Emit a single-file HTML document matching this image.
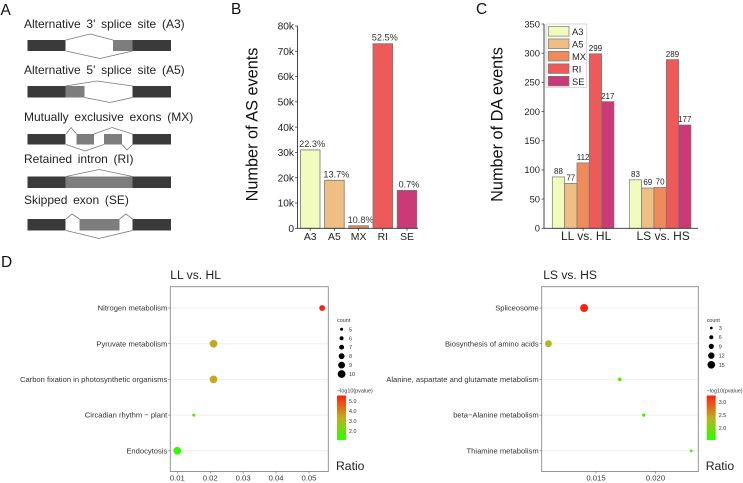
<!DOCTYPE html>
<html>
<head>
<meta charset="utf-8">
<title>AS events figure</title>
<style>
html,body{margin:0;padding:0;background:#fff}
svg{display:block;font-family:"Liberation Sans",Arial,sans-serif;filter:blur(0.3px)}
</style>
</head>
<body>
<svg id="fig" width="743" height="483" viewBox="0 0 743 483" xmlns="http://www.w3.org/2000/svg">
<defs>
<linearGradient id="cbar" x1="0" y1="1" x2="0" y2="0">
<stop offset="0" stop-color="#2bff00"/><stop offset="0.5" stop-color="#bfb020"/><stop offset="1" stop-color="#ff2010"/>
</linearGradient>
</defs>
<g fill="#111" font-size="15.5">
<text x="0.5" y="15">A</text>
<text x="231" y="14">B</text>
<text x="476" y="14">C</text>
<text x="1" y="267">D</text>
</g>
<g id="panelA" font-size="12" fill="#222" word-spacing="2.4">
<text x="24" y="28">Alternative 3' splice site (A3)</text>
<g>
<rect x="27.5" y="40" width="38" height="11" fill="#3a3a3a"/><rect x="113" y="40" width="19.5" height="11" fill="#7d7d7d"/><rect x="132.5" y="40" width="38.5" height="11" fill="#3a3a3a"/>
<polyline points="66,40 90,34 113,40" fill="none" stroke="#777" stroke-width="0.8"/><polyline points="66,51 100,58.5 132.5,51" fill="none" stroke="#777" stroke-width="0.8"/>
</g>
<text x="24" y="74">Alternative 5' splice site (A5)</text>
<g>
<rect x="27.5" y="86" width="38" height="11.5" fill="#3a3a3a"/><rect x="65.5" y="86" width="19" height="11.5" fill="#7d7d7d"/><rect x="132.5" y="86" width="38.5" height="11.5" fill="#3a3a3a"/>
<polyline points="65.5,86 97,81 132.5,86" fill="none" stroke="#777" stroke-width="0.8"/><polyline points="84.5,97.5 110,102.5 132.5,97.5" fill="none" stroke="#777" stroke-width="0.8"/>
</g>
<text x="24" y="121">Mutually exclusive exons (MX)</text>
<g>
<rect x="27.5" y="134" width="38" height="10.5" fill="#3a3a3a"/><rect x="76.5" y="134" width="17.5" height="10.5" fill="#7d7d7d"/><rect x="104" y="134" width="18" height="10.5" fill="#7d7d7d"/><rect x="132.5" y="134" width="38.5" height="10.5" fill="#3a3a3a"/>
<polyline points="66,134 71,127.5 76.5,134" fill="none" stroke="#777" stroke-width="0.8"/><polyline points="94,134 112,127.5 132.5,134" fill="none" stroke="#777" stroke-width="0.8"/>
<polyline points="66,144.5 85,151 104,144.5" fill="none" stroke="#777" stroke-width="0.8"/><polyline points="122,144.5 127,150 132.5,144.5" fill="none" stroke="#777" stroke-width="0.8"/>
</g>
<text x="24" y="163">Retained intron (RI)</text>
<g>
<rect x="27.5" y="176.5" width="38" height="11.5" fill="#3a3a3a"/><rect x="65.5" y="176.5" width="67" height="11.5" fill="#7d7d7d"/><rect x="132.5" y="176.5" width="38.5" height="11.5" fill="#3a3a3a"/>
<polyline points="66,176.5 99,169.5 132.5,176.5" fill="none" stroke="#777" stroke-width="0.8"/>
</g>
<text x="24" y="204">Skipped exon (SE)</text>
<g>
<rect x="27.5" y="219" width="38" height="11.5" fill="#3a3a3a"/><rect x="79.5" y="219" width="40" height="11.5" fill="#7d7d7d"/><rect x="132.5" y="219" width="38.5" height="11.5" fill="#3a3a3a"/>
<polyline points="66,219 72,214 79.5,219" fill="none" stroke="#777" stroke-width="0.8"/><polyline points="119.5,219 126,214 132.5,219" fill="none" stroke="#777" stroke-width="0.8"/>
<polyline points="66,230.5 99,238.5 132.5,230.5" fill="none" stroke="#777" stroke-width="0.8"/>
</g>
</g>
</svg>
<script>
// Panel B data
const bCategories = ['A3','A5','MX','RI','SE'];
const bValues = [31000,19000,1000,73000,15000];
const bPercentLabels = ['22.3%','13.7%','10.8%','52.5%','0.7%'];
const bTickValues = [0,10000,20000,30000,40000,50000,60000,70000,80000];
const bTickLabels = ['0','10k','20k','30k','40k','50k','60k','70k','80k'];
// Panel C data
const cGroups = ['LL vs. HL','LS vs. HS'];
const cSeriesNames = ['A3','A5','MX','RI','SE'];
const cSeriesColors = ['#f1fcbc','#efbe85','#ef8a5a','#ec5a5a','#c93a76'];
const cValuesA3 = [88,83];
const cValuesA5 = [77,69];
const cValuesMX = [112,70];
const cValuesRI = [299,289];
const cValuesSE = [217,177];
const cTickValues = [0,50,100,150,200,250,300,350];
// Panel D left data
const dlTerms = ['Nitrogen metabolism','Pyruvate metabolism','Carbon fixation in photosynthetic organisms','Circadian rhythm \u2212 plant','Endocytosis'];
const dlRatio = [0.054,0.021,0.021,0.015,0.010];
const dlCount = [8,10,10,5,10];
const dlLogP = [5.5,3.4,3.4,1.7,1.2];
const dlXTicks = [0.01,0.02,0.03,0.04,0.05];
const dlXTickLabels = ['0.01','0.02','0.03','0.04','0.05'];
const dlCountLegend = [5,6,7,8,9,10];
const dlColorTicks = [5.0,4.0,3.0,2.0];
// Panel D right data
const drTerms = ['Spliceosome','Biosynthesis of amino acids','Alanine, aspartate and glutamate metabolism','beta\u2212Alanine metabolism','Thiamine metabolism'];
const drRatio = [0.014,0.011,0.017,0.019,0.023];
const drCount = [16,13,5,4,3];
const drLogP = [3.27,2.3,1.7,1.65,1.55];
const drXTicks = [0.015,0.020];
const drXTickLabels = ['0.015','0.020'];
const drCountLegend = [3,6,9,12,15];
const drColorTicks = [3.0,2.5,2.0];

const NS = 'http://www.w3.org/2000/svg';
const fig = document.getElementById('fig');
function mk(tag, attrs, parent, txt) {
  const el = document.createElementNS(NS, tag);
  for (const k in attrs) el.setAttribute(k, attrs[k]);
  if (txt !== undefined) el.textContent = txt;
  (parent || fig).appendChild(el);
  return el;
}
function slug(s) { return String(s).toLowerCase().replace(/[^a-z0-9]+/g, '-').replace(/^-|-$/g, ''); }

/* ---------- Panel B ---------- */
(function () {
  const g = mk('g', {});
  
  
  const y0 = 228.3, yTop = 26, x0 = 297.5, vMax = 80000;
  const y = v => y0 - (y0 - yTop) * v / vMax;
  const x = i => 310.2 + i * 24.2;
  const bw = 19.6;
  bCategories.forEach((c, i) => {
    const r = mk('rect', { x: x(i) - bw / 2, y: y(bValues[i]), width: bw, height: y0 - y(bValues[i]), fill: cSeriesColors[i], stroke: '#777', 'stroke-width': 0.8 }, g);
    
    
    const t = mk('text', { x: x(i) + 2, y: y(bValues[i]) - 3, 'text-anchor': 'middle', 'font-size': 9.2, fill: '#333' }, g, bPercentLabels[i]);
    
    
    const tk = mk('line', { x1: x(i), x2: x(i), y1: y0, y2: y0 + 2.5, stroke: '#444', 'stroke-width': 0.8 }, g);
    
    
    const l = mk('text', { x: x(i), y: 240, 'text-anchor': 'middle', 'font-size': 10.4, fill: '#222' }, g, c);
    
    
  });
  bTickValues.forEach((v, i) => {
    const tk = mk('line', { x1: x0 - 2.5, x2: x0, y1: y(v), y2: y(v), stroke: '#444', 'stroke-width': 0.8 }, g);
    
    
    const l = mk('text', { x: 294, y: y(v) + 3.6, 'text-anchor': 'end', 'font-size': 10.2, fill: '#222' }, g, bTickLabels[i]);
    
    
  });
  const ax = mk('path', { d: `M${x0} ${yTop}V${y0}H418`, fill: 'none', stroke: '#333', 'stroke-width': 0.9 }, g);
  
  
  const yt = mk('text', { transform: 'translate(257.5,124.5) rotate(-90)', 'text-anchor': 'middle', 'font-size': 16.3, fill: '#111' }, g, 'Number of AS events');
  
  
})();

/* ---------- Panel C ---------- */
(function () {
  const g = mk('g', {});
  
  
  const y0 = 228.3, yTop = 24, x0 = 544, vMax = 350;
  const y = v => y0 - (y0 - yTop) * v / vMax;
  const bw = 12.33;
  const gx = j => 552.3 + j * 77;
  const series = [cValuesA3, cValuesA5, cValuesMX, cValuesRI, cValuesSE];
  cGroups.forEach((name, j) => {
    series.forEach((vals, s) => {
      const bx = gx(j) + s * bw;
      const r = mk('rect', { x: bx, y: y(vals[j]), width: bw, height: y0 - y(vals[j]), fill: cSeriesColors[s], stroke: '#777', 'stroke-width': 0.7 }, g);
      
      
      const t = mk('text', { x: bx + bw / 2, y: y(vals[j]) - 2.8, 'text-anchor': 'middle', 'font-size': 8, fill: '#222' }, g, vals[j]);
      
      
    });
    const cx = gx(j) + 2.5 * bw;
    const tk = mk('line', { x1: cx, x2: cx, y1: y0, y2: y0 + 2.5, stroke: '#444', 'stroke-width': 0.8 }, g);
    
    
    const l = mk('text', { x: cx + 3, y: 240, 'text-anchor': 'middle', 'font-size': 12, fill: '#222' }, g, name);
    
    
  });
  cTickValues.forEach(v => {
    const tk = mk('line', { x1: x0 - 2.5, x2: x0, y1: y(v), y2: y(v), stroke: '#444', 'stroke-width': 0.8 }, g);
    
    
    const l = mk('text', { x: 540, y: y(v) + 3.3, 'text-anchor': 'end', 'font-size': 9.4, fill: '#222' }, g, v);
    
    
  });
  const ax = mk('path', { d: `M${x0} ${yTop}V${y0}H698`, fill: 'none', stroke: '#333', 'stroke-width': 0.9 }, g);
  
  
  const yt = mk('text', { transform: 'translate(502.5,124.5) rotate(-90)', 'text-anchor': 'middle', 'font-size': 16.3, fill: '#111' }, g, 'Number of DA events');
  
  
  const lg = mk('g', {}, g);
  
  
  const box = mk('rect', { x: 546, y: 24, width: 40.7, height: 63.3, fill: '#fff', stroke: '#ccc', 'stroke-width': 0.8 }, lg);
  
  
  cSeriesNames.forEach((n, s) => {
    const top = 26.5 + s * 12.45;
    const sw = mk('rect', { x: 548.3, y: top, width: 20.7, height: 9.6, fill: cSeriesColors[s], stroke: '#777', 'stroke-width': 0.7 }, lg);
    
    
    const t = mk('text', { x: 572, y: top + 8.6, 'font-size': 9.4, fill: '#222' }, lg, n);
    
    
  });
})();

/* ---------- Panel D ---------- */
function hex(c) { return c.map(v => Math.round(v)); }
function ramp(t) {
  t = Math.max(0, Math.min(1, t));
  const a = [43, 255, 0], m = [191, 176, 32], b = [255, 32, 16];
  const p = t < 0.5 ? a : m, q = t < 0.5 ? m : b, u = t < 0.5 ? t * 2 : (t - 0.5) * 2;
  const c = hex(p.map((v, i) => v + (q[i] - v) * u));
  return `rgb(${c[0]},${c[1]},${c[2]})`;
}
function dotPlot(o) {
  const g = mk('g', {});
  
  
  const tt = mk('text', { x: o.left - (o.titleDx || 0), y: 279, 'font-size': 12.1, fill: '#222' }, g, o.title);
  
  
  const top = 286.7, bottom = 471.5;
  const rowY = i => 308 + i * 35.7;
  const x = v => o.x0 + (v - o.v0) * o.scale;
  const yOfLog = v => o.cbY0 + (v - o.cbV0) * o.cbScale;
  const size = c => o.dA + (c - o.cA) * o.dK;
  o.terms.forEach((t, i) => {
    const gl = mk('line', { x1: o.left, x2: o.right, y1: rowY(i), y2: rowY(i), stroke: '#efefef', 'stroke-width': 1 }, g);
    
    
    const tk = mk('line', { x1: o.left - 2, x2: o.left, y1: rowY(i), y2: rowY(i), stroke: '#555', 'stroke-width': 0.6 }, g);
    
    
    const l = mk('text', { x: o.left - 3, y: rowY(i) + 2.6, 'text-anchor': 'end', 'font-size': 7.6, fill: '#333' }, g, t);
    
    
  });
  const frame = mk('rect', { x: o.left, y: top, width: o.right - o.left, height: bottom - top, fill: 'none', stroke: '#8a8a8a', 'stroke-width': 0.9 }, g);
  
  
  o.terms.forEach((t, i) => {
    const c = mk('circle', { cx: x(o.ratio[i]), cy: rowY(i), r: size(o.count[i]) / 2, fill: ramp((o.logp[i] - o.pLo) / (o.pHi - o.pLo)) }, g);
    
    
  });
  o.xTicks.forEach((v, i) => {
    const tk = mk('line', { x1: x(v), x2: x(v), y1: bottom, y2: bottom + 2, stroke: '#555', 'stroke-width': 0.6 }, g);
    
    
    const l = mk('text', { x: x(v), y: 480.5, 'text-anchor': 'middle', 'font-size': 7.7, fill: '#333' }, g, o.xLabels[i]);
    
    
  });
  const ct = mk('text', { x: o.lgX, y: 322, 'font-size': 5.4, fill: '#333' }, g, 'count');
  
  
  o.countLegend.forEach((c, i) => {
    const ly = o.lgY0 + i * o.lgStep;
    const d = mk('circle', { cx: o.lgX + 4.6, cy: ly, r: size(c) / 2, fill: '#000' }, g);
    
    
    const l = mk('text', { x: o.lgX + 12, y: ly + 2, 'font-size': 5.4, fill: '#333' }, g, c);
    
    
  });
  const pt = mk('text', { x: o.lgX, y: 392.5, 'font-size': 5.4, fill: '#333' }, g, '\u2212log10(pvalue)');
  
  
  const cb = mk('rect', { x: o.lgX, y: 395.5, width: 9, height: 44.5, fill: 'url(#cbar)' }, g);
  
  
  o.colorTicks.forEach(v => {
    const l = mk('text', { x: o.lgX + 12, y: yOfLog(v) + 2, 'font-size': 5.4, fill: '#333' }, g, v.toFixed(1));
    
    
  });
  const rt = mk('text', { x: o.lgX - 1, y: 470, 'font-size': 12.2, fill: '#222' }, g, 'Ratio');
  
  
}
dotPlot({
  name: 'll-vs-hl-dot-plot', title: 'LL vs. HL', left: 170.3, right: 328.3,
  x0: 177.3, v0: 0.01, scale: 3292, terms: dlTerms, ratio: dlRatio, count: dlCount, logp: dlLogP,
  xTicks: dlXTicks, xLabels: dlXTickLabels, pLo: 1.1, pHi: 5.5,
  countLegend: dlCountLegend, cA: 5, dA: 3, dK: 0.95, lgX: 337, lgY0: 329.3, lgStep: 8.95,
  colorTicks: dlColorTicks, cbY0: 401, cbV0: 5, cbScale: -10
});
dotPlot({
  name: 'ls-vs-hs-dot-plot', title: 'LS vs. HS', left: 541.7, right: 698.3, titleDx: -1.5,
  x0: 596, v0: 0.015, scale: 11900, terms: drTerms, ratio: drRatio, count: drCount, logp: drLogP,
  xTicks: drXTicks, xLabels: drXTickLabels, pLo: 1.54, pHi: 3.27,
  countLegend: drCountLegend, cA: 3, dA: 2.8, dK: 0.4, lgX: 706.7, lgY0: 328, lgStep: 9.2,
  colorTicks: drColorTicks, cbY0: 402, cbV0: 3, cbScale: -26
});
</script>
</body>
</html>
